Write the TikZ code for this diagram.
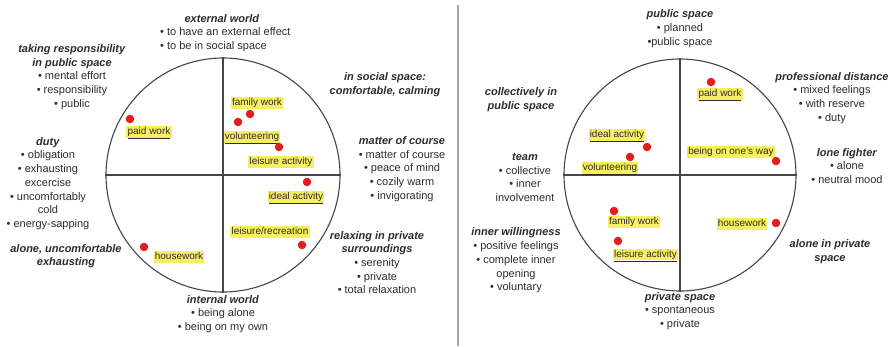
\documentclass[tikz,border=0pt]{standalone}
\usepackage{fontspec}
\setmainfont{Liberation Sans}

\definecolor{txtgray}{RGB}{45,45,45}
\definecolor{linegray}{RGB}{70,70,70}
\definecolor{divgray}{RGB}{165,165,165}
\definecolor{dotred}{RGB}{228,28,28}
\definecolor{hlyellow}{RGB}{248,238,100}
\newcommand{\hdg}[1]{\textbf{\textit{#1}}}

\begin{document}
\begin{tikzpicture}[x=1pt,y=-1pt,
  every node/.style={font=\fontsize{11}{13.7}\selectfont,text=txtgray},
  capt/.style={align=center,inner sep=0pt},
  ring/.style={circle,draw=linegray,line width=1.1pt,inner sep=0pt,minimum size=#1},
  spot/.style={circle,fill=dotred,inner sep=0pt,minimum size=8.5pt},
  hl/.style={fill=hlyellow,inner xsep=1.2pt,inner ysep=1pt,text height=7.5pt,text depth=2pt,
    font=\fontsize{10}{12}\selectfont}]

\useasboundingbox[fill=white] (0,0) rectangle (894,346);

% left circle
\node[ring=234pt] (lc) at (223,175) {};
\draw[linegray,line width=1.1pt] (lc.north) -- (lc.south) (lc.west) -- (lc.east);

\node[capt] (lext) at (222,19) {\hdg{external world}};
\node[capt,align=left,anchor=west] (lextl) at (160,40) {• to have an external effect\\• to be in social space};
\node[capt] (lresp) at (72,77) {\hdg{taking responsibility}\\\hdg{in public space}\\• mental effort\\• responsibility\\• public};
\node[capt] (lsoc) at (385,84.5) {\hdg{in social space:}\\\hdg{comfortable, calming}};
\node[capt] (lduty) at (48,183.5) {\hdg{duty}\\• obligation\\• exhausting\\excercise\\• uncomfortably\\cold\\• energy-sapping};
\node[capt] (lalone) at (66,256) {\hdg{alone, uncomfortable}\\\hdg{exhausting}};
\node[capt] (lcourse) at (402,169) {\hdg{matter of course}\\• matter of course\\• peace of mind\\• cozily warm\\• invigorating};
\node[capt] (lrelax) at (377,262.5) {\hdg{relaxing in private}\\\hdg{surroundings}\\• serenity\\• private\\• total relaxation};
\node[capt] (lint) at (223,314) {\hdg{internal world}\\• being alone\\• being on my own};

\node[spot] (lpd) at (130,119) {};
\node[hl]   (lpw) at (149,132) {\underline{paid work}};
\node[spot] (lfd) at (250,114) {};
\node[hl]   (lfw) at (257,103) {family work};
\node[spot] (lvd) at (238,122) {};
\node[hl]   (lvw) at (252,137) {\underline{volunteering}};
\node[spot] (lld) at (279,147) {};
\node[hl]   (lla) at (281,162) {leisure activity};
\node[spot] (lid) at (307,182) {};
\node[hl]   (lia) at (296,197) {\underline{ideal activity}};
\node[hl]   (lrw) at (270,232) {leisure/recreation};
\node[spot] (lrd) at (302,245) {};
\node[spot] (lhd) at (144,247) {};
\node[hl]   (lhw) at (179,257) {housework};

% divider
\coordinate (dtop) at (458,5);
\coordinate (dbot) at (458,346);
\draw[divgray,line width=2pt] (dtop) -- (dbot);

% right circle
\node[ring=232pt] (rc) at (680,175) {};
\draw[linegray,line width=1.1pt] (rc.north) -- (rc.south) (rc.west) -- (rc.east);

\node[capt] (rpub) at (680,28.5) {\hdg{public space}\\• planned\\•public space};
\node[capt] (rcoll) at (521,100) {\hdg{collectively in}\\\hdg{public space}};
\node[capt] (rprof) at (832,98) {\hdg{professional distance}\\• mixed feelings\\• with reserve\\• duty};
\node[capt] (rteam) at (525,177.5) {\hdg{team}\\• collective\\• inner\\involvement};
\node[capt] (rlone) at (847,166) {\hdg{lone fighter}\\• alone\\• neutral mood};
\node[capt] (rwill) at (516,260.5) {\hdg{inner willingness}\\• positive feelings\\• complete inner\\opening\\• voluntary};
\node[capt] (ralone) at (830,251.5) {\hdg{alone in private}\\\hdg{space}};
\node[capt] (rpriv) at (680,311) {\hdg{private space}\\• spontaneous\\• private};

\node[spot] (rpd) at (711,82) {};
\node[hl]   (rpw) at (720,94) {\underline{paid work}};
\node[hl]   (ria) at (617,135) {\underline{ideal activity}};
\node[spot] (rid) at (647,147) {};
\node[spot] (rvd) at (630,157) {};
\node[hl]   (rvw) at (610,168) {\underline{volunteering}};
\node[hl]   (rwy) at (731,152) {being on one's way};
\node[spot] (rwd) at (776,161) {};
\node[spot] (rfd) at (614,211) {};
\node[hl]   (rfw) at (634,222) {family work};
\node[spot] (rld) at (618,241) {};
\node[hl]   (rla) at (645.5,254.5) {\underline{leisure activity}};
\node[spot] (rhd) at (776,223) {};
\node[hl]   (rhw) at (742,224) {housework};

\end{tikzpicture}
\end{document}
